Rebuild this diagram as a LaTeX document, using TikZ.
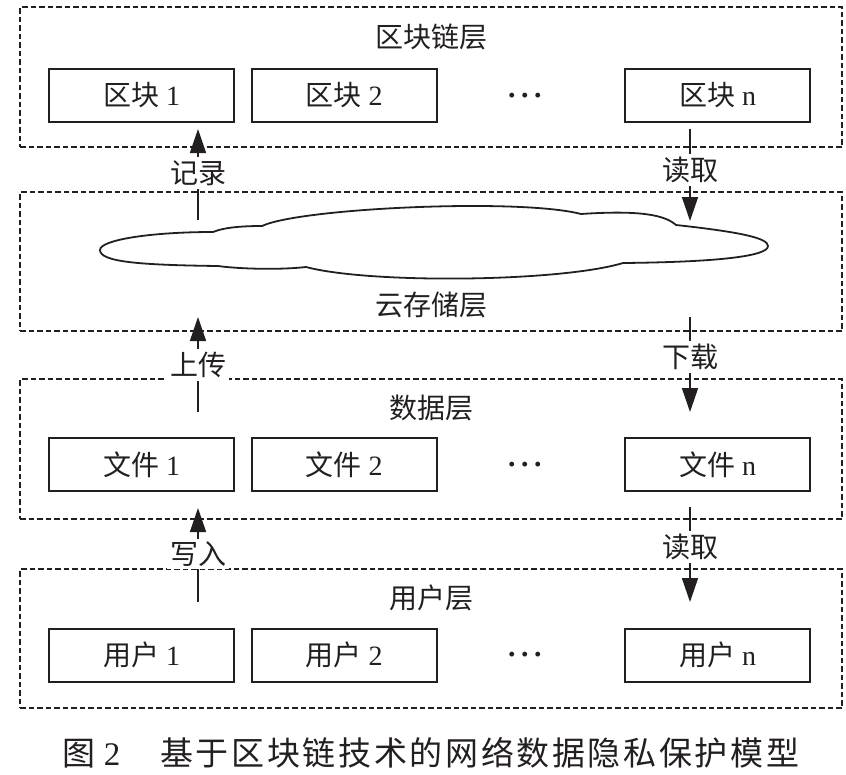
\documentclass[tikz,border=0pt]{standalone}
\usepackage{fontspec}
\setmainfont{Liberation Serif}
\newfontfamily\cjk{Noto Sans CJK SC}
\newfontfamily\cjkcap[LetterSpace=8]{Noto Sans CJK SC}
\usepackage{xcolor}
\usepackage{tikz}
\usetikzlibrary{arrows.meta}
\definecolor{ink}{HTML}{231F20}
\newcommand{\zh}[1]{{\cjk #1}}
\newcommand{\mdots}{\textbf{·\hspace{3pt}·\hspace{3pt}·}}
\tikzset{
  layer/.style={draw=ink, line width=1.6pt, dash pattern=on 5.5pt off 3pt, minimum width=822pt, minimum height=140pt, inner sep=0pt},
  item/.style={draw=ink, line width=2pt, minimum width=185pt, minimum height=53pt, inner sep=0pt, text=ink, font=\fontsize{28}{30}\selectfont},
  ttl/.style={text=ink, font=\fontsize{28}{30}\selectfont},
  flow/.style={draw=ink, line width=1.6pt, -{Triangle[length=24pt,width=16pt]}},
  tag/.style={fill=white, text=ink, inner sep=3pt, font=\fontsize{28}{30}\selectfont},
  dots/.style={text=ink, font=\fontsize{30}{30}\selectfont},
  cloudline/.style={draw=ink, line width=1.8pt, line join=round},
}

\begin{document}
\begin{tikzpicture}[x=1pt,y=-1pt]
  \useasboundingbox (0,0) rectangle (846,774);

  % the four layers
  \node[layer] (chainL) at (431,77) {};
  \node[layer, minimum height=139pt] (cloudL) at (431,261.5) {};
  \node[layer] (dataL) at (431,449) {};
  \node[layer, minimum height=139pt] (userL) at (431,638.5) {};

  \node[ttl] (chainT) at (431,37) {\zh{区块链层}};
  \node[ttl] (cloudT) at (431,305) {\zh{云存储层}};
  \node[ttl] (dataT) at (431,408) {\zh{数据层}};
  \node[ttl] (userT) at (431,598) {\zh{用户层}};

  % boxes in each layer
  \node[item] (blk1) at (141.5,95.5) {\zh{区块} 1};
  \node[item] (blk2) at (344,95.5) {\zh{区块} 2};
  \node[dots] (blkd) at (525,99) {\mdots};
  \node[item] (blkn) at (717.5,95.5) {\zh{区块} n};

  \node[item] (file1) at (141.5,464.5) {\zh{文件} 1};
  \node[item] (file2) at (344,464.5) {\zh{文件} 2};
  \node[dots] (filed) at (525,468) {\mdots};
  \node[item] (filen) at (717.5,464.5) {\zh{文件} n};

  \node[item] (user1) at (141.5,655) {\zh{用户} 1};
  \node[item] (user2) at (344,655) {\zh{用户} 2};
  \node[dots] (userd) at (525,658) {\mdots};
  \node[item] (usern) at (717.5,655) {\zh{用户} n};

  % cloud
  \draw[cloudline] (100,250)
    .. controls (100,240) and (150,232) .. (213,232)
    .. controls (225,227) and (245,226) .. (262,226)
    .. controls (300,208) and (520,198) .. (581,214)
    .. controls (640,210) and (665,215) .. (676,225)
    .. controls (740,232) and (768,238) .. (768,246)
    .. controls (768,256) and (720,262) .. (623,263)
    .. controls (560,282) and (370,284) .. (306,267)
    .. controls (280,270) and (240,269) .. (218,266)
    .. controls (140,265) and (100,262) .. (100,250) -- cycle;

  % arrow ends
  \coordinate (recS) at (198,220);
  \coordinate (recE) at (198,129);
  \coordinate (rdaS) at (690,129);
  \coordinate (rdaE) at (690,221);
  \coordinate (upS) at (198,412);
  \coordinate (upE) at (198,317);
  \coordinate (dnS) at (690,317);
  \coordinate (dnE) at (690,412);
  \coordinate (wrS) at (198,602);
  \coordinate (wrE) at (198,508);
  \coordinate (rdbS) at (690,507);
  \coordinate (rdbE) at (690,602);

  \draw[flow] (recS) -- (recE);
  \draw[flow] (rdaS) -- (rdaE);
  \draw[flow] (upS) -- (upE);
  \draw[flow] (dnS) -- (dnE);
  \draw[flow] (wrS) -- (wrE);
  \draw[flow] (rdbS) -- (rdbE);

  \node[tag] (recT) at (198,173) {\zh{记录}};
  \node[tag] (rdaT) at (690,170) {\zh{读取}};
  \node[tag] (upT) at (198,365) {\zh{上传}};
  \node[tag] (dnT) at (690,357) {\zh{下载}};
  \node[tag] (wrT) at (198,554) {\zh{写入}};
  \node[tag] (rdbT) at (690,547) {\zh{读取}};

  \node[text=ink, font=\fontsize{33}{36}\selectfont] (cap) at (431,753)
    {\zh{图}\hspace{8pt}2\hspace{40pt}{\cjkcap 基于区块链技术的网络数据隐私保护模型}};
\end{tikzpicture}
\end{document}
